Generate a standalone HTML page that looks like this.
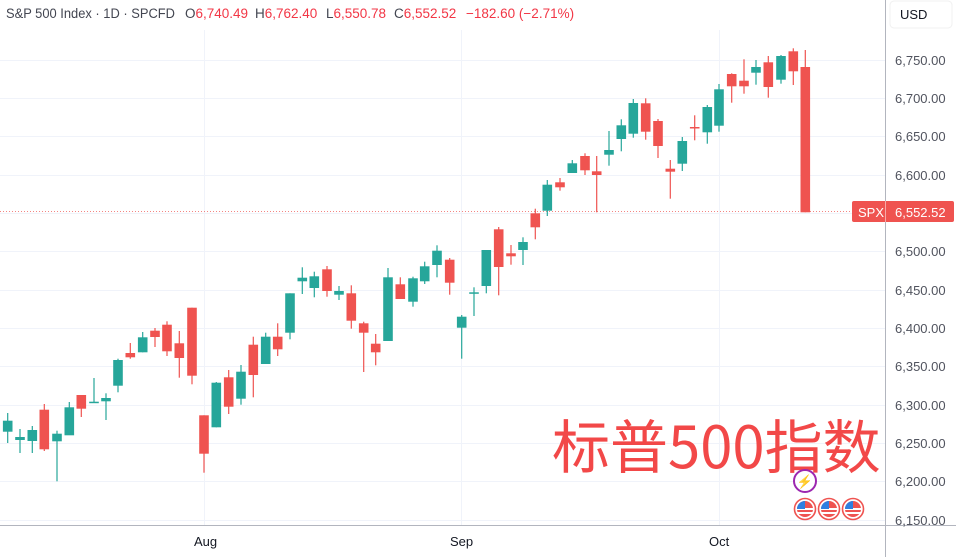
<!DOCTYPE html>
<html><head><meta charset="utf-8"><style>
html,body{margin:0;padding:0;background:#fff;}
body{width:956px;height:557px;overflow:hidden;position:relative;font-family:"Liberation Sans","Noto Sans CJK SC",sans-serif;}
</style></head><body>
<svg id="s" width="956" height="557" xmlns="http://www.w3.org/2000/svg" style="position:absolute;left:0;top:0">
<g stroke="#f0f3fa" stroke-width="1">
<line x1="0" y1="60.5" x2="885" y2="60.5"/><line x1="0" y1="98.5" x2="885" y2="98.5"/>
<line x1="0" y1="136.5" x2="885" y2="136.5"/><line x1="0" y1="175.5" x2="885" y2="175.5"/>
<line x1="0" y1="213.5" x2="885" y2="213.5"/><line x1="0" y1="251.5" x2="885" y2="251.5"/>
<line x1="0" y1="290.5" x2="885" y2="290.5"/><line x1="0" y1="328.5" x2="885" y2="328.5"/>
<line x1="0" y1="366.5" x2="885" y2="366.5"/><line x1="0" y1="405.5" x2="885" y2="405.5"/>
<line x1="0" y1="443.5" x2="885" y2="443.5"/><line x1="0" y1="481.5" x2="885" y2="481.5"/>
<line x1="0" y1="520.5" x2="885" y2="520.5"/>
<line x1="204.5" y1="30" x2="204.5" y2="525"/><line x1="461.5" y1="30" x2="461.5" y2="525"/><line x1="719.5" y1="30" x2="719.5" y2="525"/>
</g>
<line x1="0" y1="211.5" x2="885" y2="211.5" stroke="#ef5350" stroke-width="1" stroke-dasharray="1,2" opacity="0.7"/>
<g id="c"></g>
<line x1="885.5" y1="0" x2="885.5" y2="557" stroke="#b2b5be"/>
<line x1="0" y1="525.5" x2="956" y2="525.5" stroke="#b2b5be"/>
<rect x="890" y="1" width="62" height="27" rx="4" fill="#fff" stroke="#f0f0f0"/>
<text x="900" y="19" font-size="13" fill="#131722">USD</text>
<g font-size="13" fill="#50535e">
<text x="895" y="65">6,750.00</text><text x="895" y="103">6,700.00</text>
<text x="895" y="141">6,650.00</text><text x="895" y="180">6,600.00</text>
<text x="895" y="256">6,500.00</text><text x="895" y="295">6,450.00</text>
<text x="895" y="333">6,400.00</text><text x="895" y="371">6,350.00</text>
<text x="895" y="410">6,300.00</text><text x="895" y="448">6,250.00</text>
<text x="895" y="486">6,200.00</text><text x="895" y="525">6,150.00</text>
</g>
<rect x="852" y="201" width="102" height="21" rx="2" fill="#ef5350"/>
<line x1="885.5" y1="201" x2="885.5" y2="222" stroke="#f7a9a7"/>
<text x="858" y="217" font-size="13" fill="#fff">SPX</text>
<text x="895" y="217" font-size="13" fill="#fff">6,552.52</text>
<g font-size="13" fill="#131722"><text x="194" y="546">Aug</text><text x="450" y="546">Sep</text><text x="709" y="546">Oct</text></g>
<g font-size="13.5" fill="#434651">
<text x="6" y="18" textLength="169" lengthAdjust="spacingAndGlyphs">S&amp;P 500 Index · 1D · SPCFD</text>
<text x="185" y="18">O<tspan fill="#f23645">6,740.49</tspan></text>
<text x="255" y="18">H<tspan fill="#f23645">6,762.40</tspan></text>
<text x="326" y="18">L<tspan fill="#f23645">6,550.78</tspan></text>
<text x="394" y="18">C<tspan fill="#f23645">6,552.52</tspan></text>
<text x="466" y="18" fill="#f23645">−182.60 (−2.71%)</text>
</g>
<text x="552" y="468" font-size="58" fill="#f24848" font-family="'Noto Sans CJK SC',sans-serif">标普500指数</text>
<circle cx="805" cy="481" r="11" fill="#fff" stroke="#9c27b0" stroke-width="2"/>
<text x="805" y="486" font-size="13" fill="#9c27b0" text-anchor="middle">⚡</text>
<g id="f"></g>
</svg>
<script>
var d=[[7.7,431.7,420.7,413,443,1],[20,440,437,429,453,1],[32.3,441,430,426,453,1],[44.3,409.7,449.3,404,451,0],[57,441.3,433.7,430.7,481.3,1],[69.3,435.3,407.3,402,435,1],[81.3,395,408.7,395,417,0],[94,402.7,401.7,378,402.7,1],[106,401.3,398,393.3,420,1],[118,385.7,360,358.7,392.3,1],[130.3,353,357.3,343,358.7,0],[142.7,352.3,337.3,332,352.3,1],[155,330.7,337,328,347,0],[167,324.7,351.3,321.3,356,0],[179.3,343.3,358,331,377.7,0],[192,307.7,375.7,307.7,384.3,0],[204,415.3,453.7,415.3,472.7,0],[216.3,427.3,382.7,382,427.3,1],[228.7,377.3,406.7,370,414,0],[241,398.7,371.7,365,404.7,1],[253.3,344.7,375,336.7,397.3,0],[265.7,364,336.7,332.7,364,1],[277.7,336.7,349.3,323.3,356,0],[290,332.7,293.3,293.3,339.3,1],[302.3,281.3,277.7,267.3,294,1],[314.3,288,276.3,271.7,297.3,1],[327,269.3,291,266,296.7,0],[339,294.7,291,286,300,1],[351.3,293.3,320.7,285.3,328.7,0],[363.7,323.3,332.7,321.7,372,0],[375.7,343.7,352.3,334,365.3,0],[388,341,277.3,268,341,1],[400.3,284.3,299,277.3,299,0],[413,301.7,278.3,276.7,306.7,1],[424.7,281.3,266.3,261.7,284,1],[437,265,250.7,245.3,277.3,1],[449.7,259.7,282.7,258,294.7,0],[461.7,327.7,316.7,315,358.7,1],[474,293.7,292.3,287.3,316,1],[486.3,286,250,250,293.3,1],[498.7,229.3,267,227,295.3,0],[511,253.3,256.3,245,264.7,0],[523,250,242,237.3,265,1],[535.3,213.3,227.3,208.7,239.3,0],[547.3,210.7,184.7,180,216,1],[560,182.3,187.3,178,190.7,0],[572.3,173,163.3,160,173,1],[585,156,170.3,153.3,175,0],[596.7,171.3,175,156,212.3,0],[609,154.7,150,131,165.7,1],[621.3,139,125.3,119.3,151.3,1],[633.3,133.7,103,99,137.7,1],[645.7,103.3,131.7,98.3,139.7,0],[658,121,146,119,158,0],[670.3,168.7,171.7,160,198.7,0],[682.3,163.7,141,137,171,1],[694.7,127,128,115.3,140.3,0],[707.3,132.3,107,105,143.7,1],[719,125.7,89.3,84,131.7,1],[731.7,74,86.3,73.3,102.7,0],[744,80.7,86.3,59.3,93.7,0],[756,72.7,67,60,84.7,1],[768.3,62.3,87,56,97.7,0],[781,79.7,56,55,83.7,1],[793.3,51.3,71.3,48.3,85,0],[805.3,67,212.3,50,212.3,0]];
var h='';d.forEach(function(c){var col=c[5]?'#26a69a':'#ef5350';var t=Math.min(c[1],c[2]),b=Math.max(c[1],c[2]);var hh=Math.max(b-t,1.5);
h+='<line x1="'+c[0]+'" x2="'+c[0]+'" y1="'+c[3]+'" y2="'+c[4]+'" stroke="'+col+'" stroke-width="1.2"/>';
h+='<rect x="'+(c[0]-4.8)+'" y="'+t+'" width="9.6" height="'+hh+'" fill="'+col+'"/>';});
document.getElementById('c').innerHTML=h;
var f='';[805,829,853].forEach(function(x){f+='<circle cx="'+x+'" cy="509" r="10.5" fill="#fff" stroke="#ef5350" stroke-width="1.6"/><circle cx="'+x+'" cy="509" r="8" fill="#ef5350"/><rect x="'+(x-8)+'" y="508" width="16" height="2" fill="#fff"/><rect x="'+(x-8)+'" y="512" width="16" height="2" fill="#fff"/><path d="M'+(x-8)+' 509 A8 8 0 0 1 '+x+' 501 L'+x+' 509 Z" fill="#2f7fe0"/>';});
document.getElementById('f').innerHTML=f;
</script>
</body></html>
